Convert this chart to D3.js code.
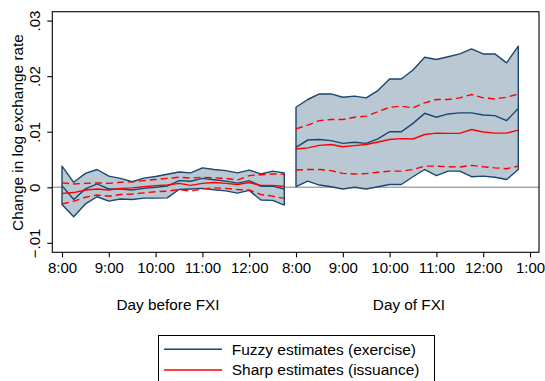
<!DOCTYPE html>
<html>
<head>
<meta charset="utf-8">
<script src="https://cdn.jsdelivr.net/npm/d3@7"></script>
<style>
  html, body { margin: 0; padding: 0; background: #fff; }
  svg { display: block; font-family: "Liberation Sans", Arial, Helvetica, sans-serif; }
</style>
</head>
<body>
<svg id="chart" width="545" height="381"></svg>
<script>
// Quarter-hour estimates, 8:00 to 12:45, for the day before and the day of FXI
const fuzzyUpperBefore = [0.0038, 0.0009, 0.0025, 0.0032, 0.0020, 0.0016, 0.0010, 0.00165, 0.00195, 0.00235,
                          0.00275, 0.0026, 0.0035, 0.0032, 0.0030, 0.0026, 0.0031, 0.0024, 0.0029, 0.0026];
const fuzzyLowerBefore = [-0.0031, -0.0053, -0.0030, -0.0017, -0.0025, -0.0021, -0.0022, -0.00195, -0.00195, -0.0019,
                          -0.0004, -0.0003, -0.0002, -0.00045, -0.00065, -0.00105, -0.00055, -0.0023, -0.00235, -0.0032];
const fuzzyPointBefore = [0.0003, -0.0022, -0.0003, 0.0006, -0.0003, -0.0003, -0.0005, -0.0002, 0.0000, 0.0002,
                          0.0012, 0.0011, 0.0016, 0.00135, 0.0011, 0.00075, 0.0012, 0.0002, 0.0002, -0.0003];
const sharpPointBefore = [-0.0011, -0.00095, -0.0005, -0.0003, -0.0005, -0.0002, -0.0001, 0.0001, 0.0003, 0.0004,
                          0.0007, 0.00035, 0.0007, 0.00085, 0.0007, 0.0005, 0.00085, 0.00035, 0.00035, 0.00015];
const sharpUpperBefore = [0.0008, 0.0006, 0.0007, 0.0008, 0.0007, 0.0009, 0.0010, 0.0012, 0.0014, 0.0016,
                          0.0018, 0.00165, 0.0018, 0.0017, 0.0016, 0.0013, 0.0021, 0.00225, 0.0024, 0.00235];
const sharpLowerBefore = [-0.0030, -0.0025, -0.0018, -0.0014, -0.0016, -0.0013, -0.0012, -0.0010, -0.0008, -0.0007,
                          -0.0004, -0.0007, -0.0003, -0.0001, -0.0002, -0.0004, -0.0005, -0.0013, -0.0016, -0.0020];

const fuzzyUpperDayOf = [0.0144, 0.0158, 0.0168, 0.0168, 0.0162, 0.0164, 0.0161, 0.0174, 0.0195, 0.0195,
                         0.0211, 0.0234, 0.0230, 0.0235, 0.0240, 0.0249, 0.0240, 0.0240, 0.0224, 0.0254];
const fuzzyLowerDayOf = [0.0001, 0.0011, 0.0004, 0.0001, -0.0003, 0.0000, -0.0003, 0.0001, 0.0005, 0.0005,
                         0.0019, 0.0032, 0.0021, 0.0029, 0.0029, 0.0019, 0.0020, 0.0018, 0.0014, 0.0032];
const fuzzyPointDayOf = [0.0072, 0.0085, 0.0086, 0.0084, 0.0079, 0.0081, 0.0079, 0.0087, 0.0100, 0.0100,
                         0.0115, 0.0133, 0.0126, 0.0132, 0.0134, 0.0134, 0.0130, 0.0129, 0.0120, 0.0142];
const sharpPointDayOf = [0.0069, 0.0071, 0.00755, 0.0077, 0.0073, 0.0075, 0.0077, 0.00815, 0.0086, 0.00875,
                         0.0087, 0.0095, 0.00975, 0.0097, 0.0097, 0.0104, 0.00995, 0.00975, 0.00975, 0.0103];
const sharpUpperDayOf = [0.0105, 0.0112, 0.0120, 0.0122, 0.0122, 0.0126, 0.0128, 0.0136, 0.0144, 0.0146,
                         0.0143, 0.0152, 0.0158, 0.0158, 0.0161, 0.0167, 0.0161, 0.0159, 0.0162, 0.0168];
const sharpLowerDayOf = [0.0031, 0.0032, 0.0032, 0.0030, 0.0025, 0.0024, 0.00245, 0.0027, 0.0029, 0.0029,
                         0.0032, 0.0038, 0.0038, 0.0037, 0.00365, 0.00395, 0.0037, 0.0035, 0.00335, 0.0038];

const timeTickLabels = ["8:00", "9:00", "10:00", "11:00", "12:00", "8:00", "9:00", "10:00", "11:00", "12:00", "1:00"];
const yTickValues = [-0.01, 0, 0.01, 0.02, 0.03];
const panelLabels = ["Day before FXI", "Day of FXI"];
const legendLabels = ["Fuzzy estimates (exercise)", "Sharp estimates (issuance)"];

const NAVY = "rgb(26,71,111)";
const BAND = "rgb(186,200,212)";
const RED = "rgb(255,0,0)";

const svg = d3.select("#chart");

const frame = { left: 52.3, right: 539, top: 11.7, bottom: 252.3 };

// Each quarter hour is one step on the x axis; the day of FXI starts at step 20
const x = d3.scaleLinear().domain([0, 40]).range([62, 530]);
const y = d3.scaleLinear().domain([-0.0117, 0.0316]).range([frame.bottom, frame.top]);

const days = [
  { offset: 0,  up: fuzzyUpperBefore, lo: fuzzyLowerBefore, pt: fuzzyPointBefore,
    sp: sharpPointBefore, su: sharpUpperBefore, sl: sharpLowerBefore },
  { offset: 20, up: fuzzyUpperDayOf, lo: fuzzyLowerDayOf, pt: fuzzyPointDayOf,
    sp: sharpPointDayOf, su: sharpUpperDayOf, sl: sharpLowerDayOf }
];

// zero reference line
svg.append("line")
  .attr("x1", frame.left).attr("x2", frame.right)
  .attr("y1", y(0)).attr("y2", y(0))
  .attr("stroke", "#a8a8a8").attr("stroke-width", 1.5);

const lineOf = (offset) => d3.line().x((d, i) => x(offset + i)).y(d => y(d));

days.forEach(day => {
  const n = day.up.length;
  const idx = d3.range(n);
  // confidence band of the fuzzy estimates, outlined as a closed shape
  const band = idx.map(i => [x(day.offset + i), y(day.up[i])])
    .concat(idx.slice().reverse().map(i => [x(day.offset + i), y(day.lo[i])]));
  svg.append("path")
    .attr("d", d3.line()(band) + "Z")
    .attr("fill", BAND)
    .attr("stroke", NAVY).attr("stroke-width", 1.4)
    .attr("stroke-linejoin", "round");

  svg.append("path")
    .attr("d", lineOf(day.offset)(day.pt))
    .attr("fill", "none").attr("stroke", NAVY).attr("stroke-width", 1.4);

  [day.su, day.sl].forEach(s => {
    svg.append("path")
      .attr("d", lineOf(day.offset)(s))
      .attr("fill", "none").attr("stroke", RED).attr("stroke-width", 1.4)
      .attr("stroke-dasharray", "7,4");
  });

  svg.append("path")
    .attr("d", lineOf(day.offset)(day.sp))
    .attr("fill", "none").attr("stroke", RED).attr("stroke-width", 1.4);
});

// plot frame
svg.append("rect")
  .attr("x", frame.left).attr("y", frame.top)
  .attr("width", frame.right - frame.left).attr("height", frame.bottom - frame.top)
  .attr("fill", "none").attr("stroke", "#000").attr("stroke-width", 1.1);

// x axis
const xAxis = d3.axisBottom(x)
  .tickValues(d3.range(0, 41, 4))
  .tickSize(5)
  .tickPadding(5)
  .tickFormat((d, i) => timeTickLabels[i]);
const gx = svg.append("g").attr("transform", `translate(0,${frame.bottom})`).call(xAxis);
gx.select(".domain").remove();
gx.selectAll("line").attr("stroke", "#000").attr("stroke-width", 1.1);
gx.selectAll("text").attr("font-size", 15).attr("fill", "#000")
  .attr("font-family", "Liberation Sans, Arial, sans-serif");

// y axis with rotated labels
const fmt = v => v === 0 ? "0" : (v < 0 ? "\u2212" : "") + d3.format(".2f")(Math.abs(v)).replace(/^0/, "");
const gy = svg.append("g").attr("transform", `translate(${frame.left},0)`)
  .call(d3.axisLeft(y).tickValues(yTickValues).tickSize(5).tickFormat(fmt));
gy.select(".domain").remove();
gy.selectAll("line").attr("stroke", "#000").attr("stroke-width", 1.1);
gy.selectAll("text")
  .attr("font-size", 15).attr("fill", "#000")
  .attr("font-family", "Liberation Sans, Arial, sans-serif")
  .attr("x", null).attr("dy", null)
  .attr("text-anchor", "middle")
  .attr("transform", "translate(-12.8,0) rotate(-90)");

svg.append("text")
  .attr("transform", `translate(22.7,${(frame.top + frame.bottom) / 2 + 0.5}) rotate(-90)`)
  .attr("text-anchor", "middle")
  .attr("font-size", 15.4)
  .text("Change in log exchange rate");

// panel captions under the time axis
[168, 409].forEach((cx, i) => {
  svg.append("text")
    .attr("x", cx).attr("y", 309.6)
    .attr("text-anchor", "middle")
    .attr("font-size", 15.3)
    .text(panelLabels[i]);
});

// legend
const lg = svg.append("g");
lg.append("rect")
  .attr("x", 158.5).attr("y", 335.5).attr("width", 276).attr("height", 60)
  .attr("fill", "#fff").attr("stroke", "#000").attr("stroke-width", 1);
[NAVY, RED].forEach((c, i) => {
  const ly = [349.3, 370][i];
  lg.append("line").attr("x1", 164).attr("x2", 222).attr("y1", ly).attr("y2", ly)
    .attr("stroke", c).attr("stroke-width", 1.4);
  lg.append("text").attr("x", 231.7).attr("y", [355, 375.2][i])
    .attr("font-size", 15.5).text(legendLabels[i]);
});
</script>
</body>
</html>
